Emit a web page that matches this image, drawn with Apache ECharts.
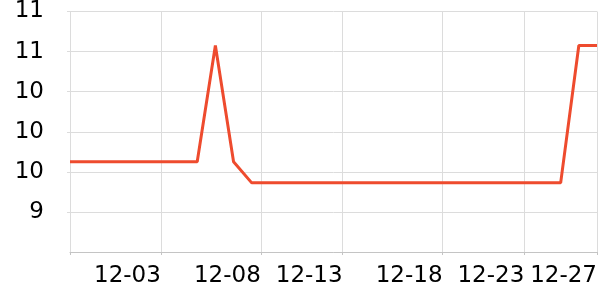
<!DOCTYPE html>
<html>
<head>
<meta charset="utf-8">
<script src="https://cdn.jsdelivr.net/npm/echarts@6/dist/echarts.min.js"></script>
<style>html,body{margin:0;padding:0;background:#fff}#c{width:600px;height:300px}</style>
</head>
<body>
<div id="c"></div>
<script>
var dates = ['2023-11-28','2023-11-29','2023-11-30','2023-12-01','2023-12-02','2023-12-03','2023-12-04','2023-12-05','2023-12-06','2023-12-07',
  '2023-12-08','2023-12-09','2023-12-10','2023-12-11','2023-12-12','2023-12-13','2023-12-14','2023-12-15','2023-12-16','2023-12-17',
  '2023-12-18','2023-12-19','2023-12-20','2023-12-21','2023-12-22','2023-12-23','2023-12-24','2023-12-25','2023-12-26','2023-12-27'];
var values = [9.7,9.7,9.7,9.7,9.7,9.7,9.7,9.7,10.86,9.7,
  9.49,9.49,9.49,9.49,9.49,9.49,9.49,9.49,9.49,9.49,
  9.49,9.49,9.49,9.49,9.49,9.49,9.49,9.49,10.86,10.86];
var tickDates = ['2023-11-28T00:00:00Z','2023-12-03T00:00:00Z','2023-12-08T12:00:00Z','2023-12-13T00:00:00Z','2023-12-18T12:00:00Z','2023-12-23T00:00:00Z','2023-12-27T00:00:00Z'];
var labelDates = tickDates.slice(1);
var yMin = 8.8, yMax = 11.2, yStep = 0.4;

var DAY = 86400000;
function ts(s){ return Date.parse(s.length === 10 ? s + 'T00:00:00Z' : s); }
var t0 = ts(dates[0]);
function dayOf(s){ return (ts(s) - t0) / DAY; }
function pad(n){ return (n < 10 ? '0' : '') + n; }
function mmdd(dayOffset){ var d = new Date(t0 + dayOffset * DAY); return pad(d.getUTCMonth()+1) + '-' + pad(d.getUTCDate()); }

var chart = echarts.init(document.getElementById('c'), null, {renderer:'canvas'});
chart.setOption({
  animation: false,
  grid: {left: 70, width: 531, top: 10, bottom: 48, containLabel: false},
  xAxis: {
    type: 'value',
    min: dayOf(dates[0]),
    max: dayOf(dates[dates.length-1]),
    axisLine: {lineStyle: {color: '#c4c4c4'}},
    axisTick: {show: true, length: 3, lineStyle: {color: '#c4c4c4'}, customValues: tickDates.map(dayOf)},
    axisLabel: {
      customValues: labelDates.map(dayOf),
      formatter: function(v){ return mmdd(v); },
      align: 'right',
      color: '#000',
      fontFamily: 'DejaVu Sans',
      fontSize: 23,
      margin: 13,
      hideOverlap: false
    },
    splitLine: {show: true, lineStyle: {color: '#dcdcdc', width: 1}}
  },
  yAxis: {
    type: 'value',
    min: yMin,
    max: yMax,
    interval: yStep,
    axisLine: {show: false},
    axisTick: {show: true, length: 3, lineStyle: {color: '#dcdcdc'}},
    axisLabel: {
      showMinLabel: false,
      formatter: function(v){ return String(Math.round(v)); },
      color: '#000',
      fontFamily: 'DejaVu Sans',
      fontSize: 23,
      margin: 26
    },
    splitLine: {show: true, lineStyle: {color: '#dcdcdc', width: 1}}
  },
  series: [{
    type: 'line',
    data: dates.map(function(d, i){ return [dayOf(d), values[i]]; }),
    showSymbol: false,
    symbol: 'none',
    lineStyle: {color: '#ee4b2e', width: 3},
    itemStyle: {color: '#ee4b2e'}
  }]
});
</script>
</body>
</html>
